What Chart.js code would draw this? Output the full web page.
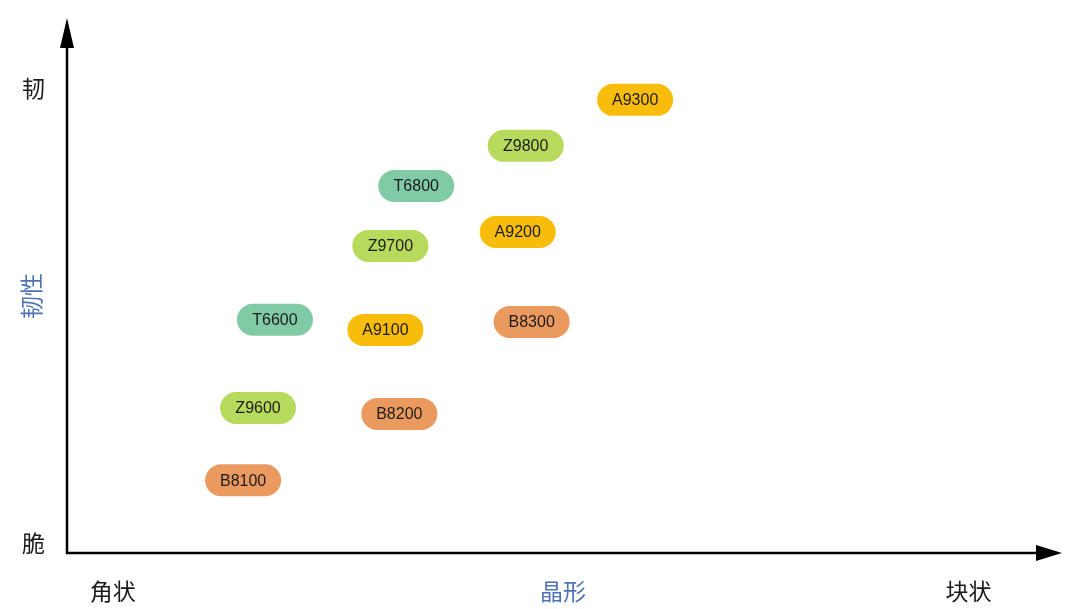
<!DOCTYPE html>
<html>
<head>
<meta charset="utf-8">
<script src="https://cdn.jsdelivr.net/npm/chart.js@4.4.1/dist/chart.umd.min.js"></script>
<style>
html,body{margin:0;padding:0;background:#fff;}
#wrap{width:1068px;height:609px;}
</style>
</head>
<body>
<div id="wrap"><canvas id="c" width="1068" height="609"></canvas></div>
<script>
// Categories / names of grades
const namesA = ['A9100', 'A9200', 'A9300'];
const xA = [32.0, 45.3, 57.1];
const yA = [41.7, 60.0, 84.7];

const namesZ = ['Z9600', 'Z9700', 'Z9800'];
const xZ = [19.2, 32.5, 46.1];
const yZ = [27.1, 57.4, 76.1];

const namesT = ['T6600', 'T6800'];
const xT = [20.9, 35.1];
const yT = [43.6, 68.6];

const namesB = ['B8100', 'B8200', 'B8300'];
const xB = [17.7, 33.4, 46.7];
const yB = [13.6, 26.0, 43.2];

// Axis tick labels
const xTickValues = [4.6, 90.6];
const xTickLabels = ['角状', '块状'];
const yTickValues = [1.9, 86.9];
const yTickLabels = ['脆', '韧'];
const xTitle = '晶形';
const yTitle = '韧性';

const colors = { A: '#f7bd0a', Z: '#b8da5c', T: '#80cba6', B: '#eb9a5f' };

function pts(xs, ys) { return xs.map((x, i) => ({ x: x, y: ys[i] })); }

const datasets = [
  { label: 'A', names: namesA, data: pts(xA, yA), backgroundColor: colors.A },
  { label: 'Z', names: namesZ, data: pts(xZ, yZ), backgroundColor: colors.Z },
  { label: 'T', names: namesT, data: pts(xT, yT), backgroundColor: colors.T },
  { label: 'B', names: namesB, data: pts(xB, yB), backgroundColor: colors.B }
].map(d => Object.assign(d, { pointRadius: 0, pointHoverRadius: 0 }));

function roundRect(ctx, x, y, w, h, r) {
  ctx.beginPath();
  ctx.moveTo(x + r, y);
  ctx.lineTo(x + w - r, y);
  ctx.arc(x + w - r, y + r, r, -Math.PI / 2, Math.PI / 2);
  ctx.lineTo(x + r, y + h);
  ctx.arc(x + r, y + r, r, Math.PI / 2, Math.PI * 1.5);
  ctx.closePath();
}

const axesPlugin = {
  id: 'arrowAxes',
  beforeDatasetsDraw(chart) {
    const ctx = chart.ctx;
    const a = chart.chartArea;
    ctx.save();
    ctx.strokeStyle = '#000';
    ctx.fillStyle = '#000';
    ctx.lineWidth = 2.5;
    // y axis
    ctx.beginPath();
    ctx.moveTo(a.left, a.bottom + 1);
    ctx.lineTo(a.left, a.top + 25);
    ctx.stroke();
    ctx.beginPath();
    ctx.moveTo(a.left, a.top);
    ctx.lineTo(a.left - 7, a.top + 30);
    ctx.lineTo(a.left + 7, a.top + 30);
    ctx.closePath();
    ctx.fill();
    // x axis
    ctx.beginPath();
    ctx.moveTo(a.left - 1, a.bottom);
    ctx.lineTo(a.right - 22, a.bottom);
    ctx.stroke();
    ctx.beginPath();
    ctx.moveTo(a.right, a.bottom);
    ctx.lineTo(a.right - 26, a.bottom - 8);
    ctx.lineTo(a.right - 26, a.bottom + 8);
    ctx.closePath();
    ctx.fill();
    // titles
    ctx.fillStyle = '#4f74b5';
    ctx.font = '23px "Noto Sans CJK SC", sans-serif';
    ctx.textAlign = 'center';
    ctx.textBaseline = 'middle';
    ctx.fillText(xTitle, 563, 591);
    ctx.translate(31, 296);
    ctx.rotate(-Math.PI / 2);
    ctx.fillText(yTitle, 0, 0);
    ctx.restore();
  },
  afterDatasetsDraw(chart) {
    const ctx = chart.ctx;
    ctx.save();
    chart.data.datasets.forEach((ds, di) => {
      const meta = chart.getDatasetMeta(di);
      meta.data.forEach((el, i) => {
        const w = 76, h = 32;
        roundRect(ctx, el.x - w / 2, el.y - h / 2, w, h, h / 2);
        ctx.fillStyle = ds.backgroundColor;
        ctx.fill();
        ctx.fillStyle = '#1c1c1c';
        ctx.font = '16px "Liberation Sans", Arial, sans-serif';
        ctx.textAlign = 'center';
        ctx.textBaseline = 'middle';
        ctx.fillText(ds.names[i], el.x, el.y + 1);
      });
    });
    ctx.restore();
  }
};

new Chart(document.getElementById('c'), {
  type: 'scatter',
  data: { datasets: datasets },
  options: {
    responsive: false,
    animation: false,
    devicePixelRatio: 1,
    layout: { padding: { top: 18, right: 6, left: 0, bottom: 0 } },
    plugins: { legend: { display: false }, tooltip: { enabled: false } },
    scales: {
      x: {
        type: 'linear', min: 0, max: 100,
        grid: { display: false, drawTicks: false },
        border: { display: false },
        afterFit(s) { s.height = 56; s.paddingLeft = 0; s.paddingRight = 0; },
        afterBuildTicks(s) { s.ticks = xTickValues.map(v => ({ value: v })); },
        ticks: {
          padding: 24,
          color: '#1a1a1a',
          font: { size: 23, family: '"Noto Sans CJK SC", sans-serif' },
          autoSkip: false, maxRotation: 0,
          callback: (v) => xTickLabels[xTickValues.indexOf(v)]
        }
      },
      y: {
        type: 'linear', min: 0, max: 100,
        grid: { display: false, drawTicks: false },
        border: { display: false },
        afterFit(s) { s.width = 67; s.paddingTop = 0; s.paddingBottom = 0; },
        afterBuildTicks(s) { s.ticks = yTickValues.map(v => ({ value: v })); },
        ticks: {
          padding: 22,
          color: '#1a1a1a',
          font: { size: 23, family: '"Noto Sans CJK SC", sans-serif' },
          autoSkip: false,
          callback: (v) => yTickLabels[yTickValues.indexOf(v)]
        }
      }
    }
  },
  plugins: [axesPlugin]
});
</script>
</body>
</html>
